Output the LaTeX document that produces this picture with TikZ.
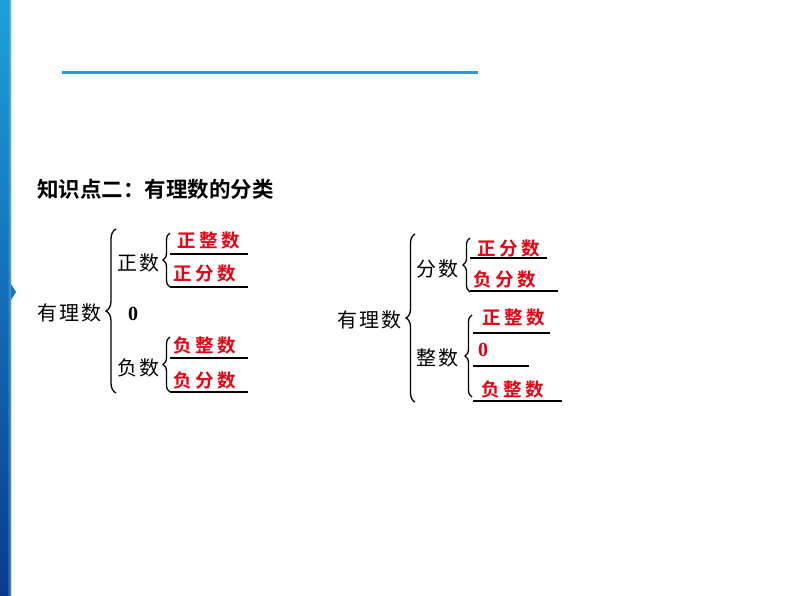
\documentclass[tikz,border=0pt]{standalone}
\usepackage{fontspec}
\usepackage{xcolor}
\usepackage{tikz}
\usetikzlibrary{decorations.pathreplacing,shadings}
\setmainfont{Liberation Serif}
\newfontfamily\cjk{Noto Sans CJK SC}
\newfontfamily\cjkhead{Noto Sans CJK SC Bold}
\newfontfamily\cjkwide[LetterSpace=12]{Noto Sans CJK SC}
\newfontfamily\cjkred[LetterSpace=20]{Noto Sans CJK SC Bold}
\definecolor{barTop}{HTML}{1E9FDD}
\definecolor{barBot}{HTML}{0A3A92}
\definecolor{ruleBlue}{HTML}{1CA2DB}
\definecolor{ansRed}{HTML}{E60012}
\tikzset{
  lbl/.style={anchor=west, inner sep=0pt, font=\fontsize{20}{20}\cjkwide},
  ans/.style={anchor=west, inner sep=0pt, text=ansRed, font=\fontsize{18.5}{18.5}\cjkred},
  zero/.style={anchor=west, inner sep=0pt, font=\fontsize{20}{20}\bfseries},
  brc/.style={decorate, decoration={brace, amplitude=#1}, line width=1.3pt},
  uline/.style={line width=1.2pt}
}

\begin{document}
\begin{tikzpicture}[x=1pt, y=-1pt]
  \useasboundingbox[fill=white] (0,0) rectangle (794,596);
  \shade[top color=barTop, bottom color=barBot] (0,0) rectangle (11,596);
  \shade[left color=barBot!0!barTop, right color=white, opacity=0.35] (8,0) rectangle (11,596);
  \fill[barTop!60!barBot] (11,284) -- (16,292) -- (11,300) -- cycle;
  \draw[ruleBlue, line width=3pt] (62,73) -- (478,73);
  \node[anchor=west, inner sep=0pt, font=\fontsize{21.5}{21.5}\cjkhead] (title) at (37,189) {知识点二：有理数的分类};
  \begin{scope}
    \node[lbl] (lRat) at (37,313) {有理数};
    \node[lbl] (lPos) at (117,263) {正数};
    \node[zero] (lZero) at (128,314) {0};
    \node[lbl] (lNeg) at (117,368) {负数};
    \node[ans] (lPosInt) at (177,241) {正整数};
    \node[ans] (lPosFrac) at (173,274) {正分数};
    \node[ans] (lNegInt) at (173,346) {负整数};
    \node[ans] (lNegFrac) at (173,381) {负分数};
    \draw[brc=10pt] (116,393) -- (116,229);
    \draw[brc=7pt] (170,287) -- (170,233);
    \draw[brc=7pt] (170,392) -- (170,337);
    \foreach \y in {254,287,358,392}
      \draw[uline] (170,\y) -- (248,\y);
  \end{scope}
  \begin{scope}
    \node[lbl] (rRat) at (337,320) {有理数};
    \node[lbl] (rFrac) at (416,269) {分数};
    \node[lbl] (rInt) at (416,358) {整数};
    \node[ans] (rPosFrac) at (477,249) {正分数};
    \node[ans] (rNegFrac) at (473,280) {负分数};
    \node[ans] (rPosInt) at (482,318) {正整数};
    \node[zero, text=ansRed] (rZero) at (478,350) {0};
    \node[ans] (rNegInt) at (481,390) {负整数};
    \draw[brc=9pt] (415,402) -- (415,234);
    \draw[brc=7pt] (470,292) -- (470,238);
    \draw[brc=7pt] (472,397) -- (472,315);
    \draw[uline] (470,258) -- (547,258);
    \draw[uline] (470,291) -- (558,291);
    \draw[uline] (473,333) -- (550,333);
    \draw[uline] (473,366) -- (529,366);
    \draw[uline] (473,401) -- (562,401);
  \end{scope}
\end{tikzpicture}
\end{document}
